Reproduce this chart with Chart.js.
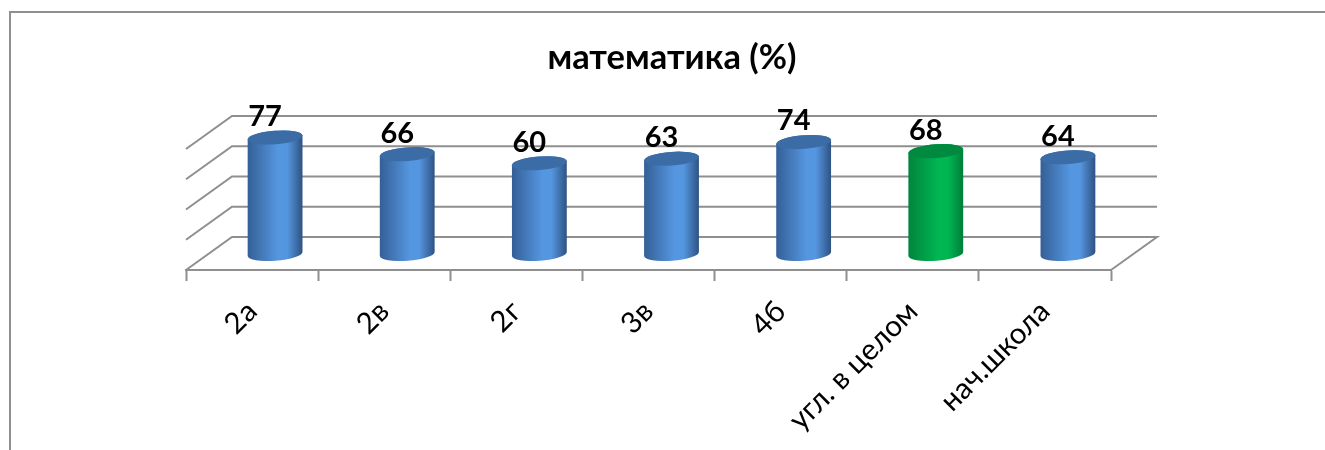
<!DOCTYPE html>
<html><head><meta charset="utf-8">
<style>html,body{margin:0;padding:0;background:#fff}#w{width:1325px;height:450px;position:relative}</style>
<script src="https://cdn.jsdelivr.net/npm/chart.js@4/dist/chart.umd.min.js"></script>
</head><body><div id="w"><canvas id="c" width="1325" height="450"></canvas></div>
<script>
const categories = ['2а','2в','2г','3в','4б','угл. в целом','нач.школа'];
const values = [77,66,60,63,74,68,64];
const barColors = ['#4f81bd','#4f81bd','#4f81bd','#4f81bd','#4f81bd','#00b050','#4f81bd'];
const titleText = 'математика (%)';
const FONT = 'Lato, "Noto Sans", sans-serif';
const GRID = '#8f8f8f';
const DX = 46, DY = -33;
const shades = {
  '#4f81bd': {edgeL:'#345f96', mid:'#5596e0', edgeR:'#2e5282', top:'#3b6ca6'},
  '#00b050': {edgeL:'#00853d', mid:'#00b652', edgeR:'#007e3b', top:'#008a40'}
};
const cyl = {
  id:'cyl',
  beforeDraw(ch){
    const c=ch.ctx; c.save(); c.strokeStyle=GRID; c.lineWidth=2;
    c.beginPath(); c.moveTo(10,450); c.lineTo(10,12); c.lineTo(1325,12); c.stroke(); c.restore();
  },
  beforeDatasetDraw(ch,args){
    const c=ch.ctx, y=ch.scales.y, a=ch.chartArea;
    c.save(); c.strokeStyle=GRID; c.lineWidth=2;
    y.ticks.forEach(t=>{
      const p=y.getPixelForValue(t.value);
      c.beginPath();
      if(t.value===0){c.moveTo(a.left,p);c.lineTo(a.left+DX,p+DY);c.lineTo(a.right+DX,p+DY);c.lineTo(a.right,p);}
      else{c.moveTo(a.left,p);c.lineTo(a.left+DX,p+DY);c.lineTo(a.right+DX,p+DY);}
      c.stroke();
    });
    c.restore();
    const meta=ch.getDatasetMeta(args.index), ds=ch.data.datasets[args.index];
    meta.data.forEach((b,i)=>{
      const col=shades[ds.backgroundColor[i]];
      const cx=b.x+DX/2, rx=b.width/2, ry=6.8, rot=-0.075;
      const top=b.y+DY/2+0.5, base=b.base+DY/2+0.5;
      const g=c.createLinearGradient(cx-rx,0,cx+rx,0);
      g.addColorStop(0,col.edgeL);g.addColorStop(.55,col.mid);g.addColorStop(.72,col.mid);g.addColorStop(1,col.edgeR);
      c.save();
      c.fillStyle=g;
      c.beginPath();
      c.ellipse(cx,base,rx,ry,rot,0,Math.PI);
      c.ellipse(cx,top,rx,ry,rot,Math.PI,0);
      c.closePath(); c.fill();
      c.fillStyle=col.top;
      c.beginPath(); c.ellipse(cx,top,rx,ry,rot,0,Math.PI*2); c.fill();
      c.fillStyle='#000'; c.font='bold 29px '+FONT; c.textAlign='center'; c.textBaseline='middle';
      c.fillText(String(values[i]),cx-10,top-21);
      c.restore();
    });
    return false;
  }
};
new Chart(document.getElementById('c'),{
  type:'bar',
  data:{labels:categories,datasets:[{data:values,backgroundColor:barColors,barPercentage:.416,categoryPercentage:1}]},
  plugins:[cyl],
  options:{
    responsive:false,animation:false,
    layout:{padding:{left:19}},
    plugins:{legend:{display:false},tooltip:{enabled:false},
      title:{display:true,text:titleText,color:'#000',font:{family:FONT,size:34.5,weight:'bold',lineHeight:1.2},padding:{top:37,bottom:70.6}}},
    scales:{
      x:{grid:{display:true,drawOnChartArea:false,drawTicks:true,tickLength:11,tickColor:GRID,tickWidth:2},
        border:{color:GRID,width:2},
        ticks:{color:'#000',font:{family:FONT,size:29.5},minRotation:45,maxRotation:45,padding:13,autoSkip:false},
        afterFit(s){s.height=180;}},
      y:{min:0,max:80,ticks:{display:false,stepSize:20},grid:{display:false},border:{display:false},afterFit(s){s.width=167;}},
      yR:{position:'right',min:0,max:80,ticks:{display:false},grid:{display:false},border:{display:false},afterFit(s){s.width=214;}}
    }
  }
});
</script></body></html>
